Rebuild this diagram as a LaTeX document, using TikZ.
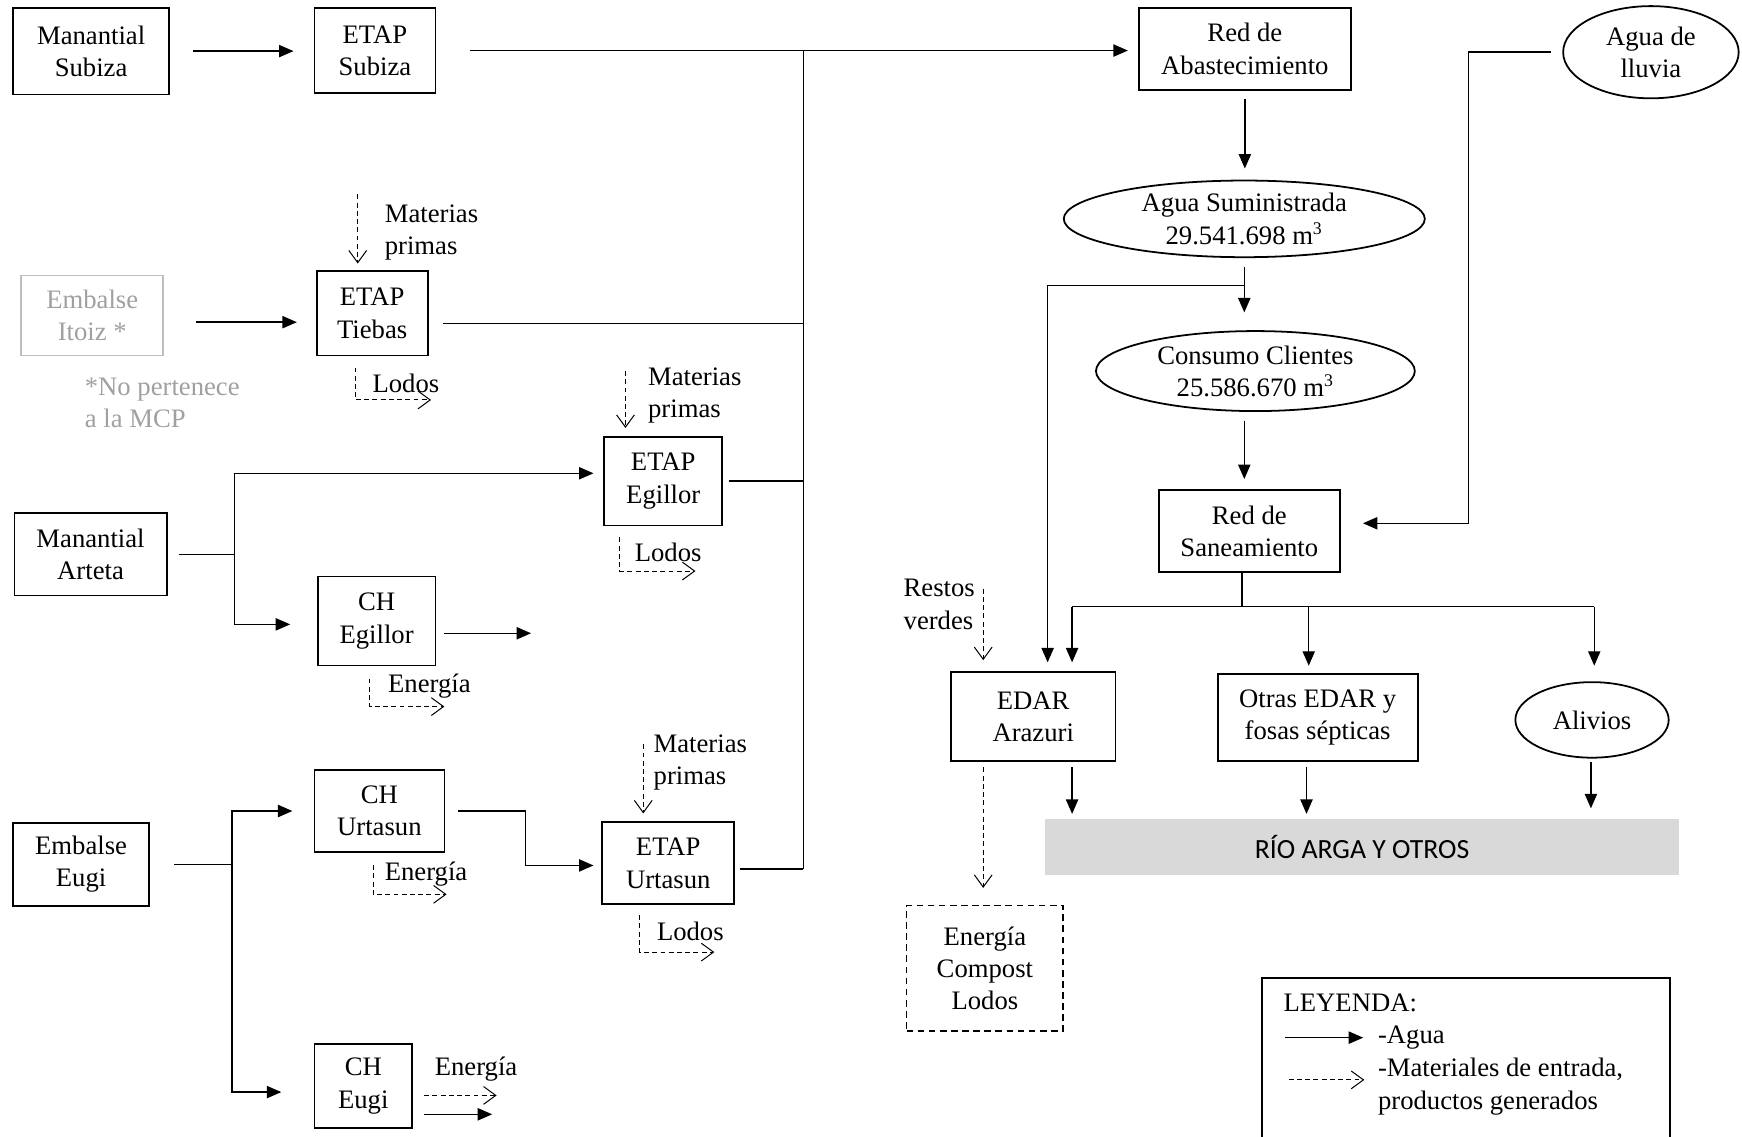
\documentclass[tikz,border=0pt]{standalone}
\usepackage{fontspec}
\setmainfont{Liberation Serif}
\newfontfamily\riofont{Carlito}
\usepackage{tikz}
\usetikzlibrary{arrows.meta,shapes.geometric}
\definecolor{gristxt}{RGB}{160,160,160}
\definecolor{grisbox}{RGB}{190,190,190}
\definecolor{grisrio}{RGB}{217,217,217}

\begin{document}
\begin{tikzpicture}[x=0.5pt,y=-0.5pt,
  txt/.style={font=\fontsize{12}{14.5}\selectfont},
  caja/.style={draw,line width=0.8pt,align=center,inner sep=0pt,txt},
  elipse/.style={ellipse,draw,line width=0.8pt,align=center,inner sep=0pt,txt},
  etiq/.style={align=left,inner sep=0pt,anchor=west,txt},
  linea/.style={line width=0.65pt},
  agua/.style={-{Triangle[length=6.5pt,width=5.5pt]},line width=0.65pt},
  mat/.style={-{Straight Barb[length=5.5pt,width=8pt]},dash pattern=on 2.2pt off 1.5pt,line width=0.45pt}]

  \useasboundingbox (0,0) rectangle (1568,1023);

  \node[caja,minimum width=70pt,minimum height=39pt] (msub) at (82,46) {Manantial\\Subiza};
  \node[caja,minimum width=54.5pt,minimum height=38.5pt] (esub) at (337.5,45.5) {ETAP\\Subiza};
  \node[caja,draw=grisbox,text=gristxt,minimum width=64pt,minimum height=36pt] (itoiz) at (83,284) {Embalse\\Itoiz *};
  \node[caja,minimum width=50pt,minimum height=38pt] (etie) at (335,282) {ETAP\\Tiebas};
  \node[caja,minimum width=68.5pt,minimum height=37pt] (mart) at (81.5,499) {Manantial\\Arteta};
  \node[caja,minimum width=53pt,minimum height=40pt] (eegi) at (597,433) {ETAP\\Egillor};
  \node[caja,minimum width=53pt,minimum height=40pt] (chegi) at (339,559) {CH\\Egillor};
  \node[caja,minimum width=61pt,minimum height=37.5pt] (eeugi) at (73,778) {Embalse\\Eugi};
  \node[caja,minimum width=58.5pt,minimum height=37pt] (churt) at (341.5,730) {CH\\Urtasun};
  \node[caja,minimum width=59.5pt,minimum height=37pt] (eurt) at (601.5,777) {ETAP\\Urtasun};
  \node[caja,minimum width=44pt,minimum height=37.5pt] (cheugi) at (327,977.5) {CH\\Eugi};

  \node[caja,minimum width=95.5pt,minimum height=37pt] (rabas) at (1120.5,44) {Red de\\Abastecimiento};
  \node[elipse,minimum width=79pt,minimum height=41.5pt] (lluvia) at (1486,47) {Agua de\\lluvia};
  \node[elipse,minimum width=162.5pt,minimum height=34.5pt] (asum) at (1120,197) {Agua Suministrada\\29.541.698 m\textsuperscript{3}};
  \node[elipse,minimum width=143.5pt,minimum height=36pt] (ccli) at (1130,334) {Consumo Clientes\\25.586.670 m\textsuperscript{3}};
  \node[caja,minimum width=81.5pt,minimum height=37pt] (rsan) at (1124.5,478) {Red de\\Saneamiento};
  \node[caja,minimum width=74pt,minimum height=40pt] (edar) at (930,645) {EDAR\\Arazuri};
  \node[caja,minimum width=90pt,minimum height=39pt] (otras) at (1186,646) {Otras EDAR y\\fosas sépticas};
  \node[elipse,minimum width=69pt,minimum height=34pt] (alivios) at (1433,648) {Alivios};
  \node[fill=grisrio,minimum width=285pt,minimum height=25.5pt,inner sep=0pt,font=\riofont\fontsize{12.5}{15}\selectfont] (rio) at (1226,762.5) {RÍO ARGA Y OTROS};
  \node[caja,dash pattern=on 3pt off 2pt,minimum width=70.5pt,minimum height=56.5pt] (prod) at (886.5,871.5) {Energía\\Compost\\Lodos};
  \node[caja,minimum width=183.5pt,minimum height=80pt] (ley) at (1319.5,960) {};

  \node[etiq] (mp1t) at (346,209) {Materias\\primas};
  \node[etiq] (mp2t) at (583,356) {Materias\\primas};
  \node[etiq] (mp3t) at (588,686) {Materias\\primas};
  \node[etiq] (ld1t) at (335,345) {Lodos};
  \node[etiq] (ld2t) at (571,497) {Lodos};
  \node[etiq] (ld3t) at (591,838) {Lodos};
  \node[etiq] (en1t) at (349,618) {Energía};
  \node[etiq] (en2t) at (346,787) {Energía};
  \node[etiq] (en3t) at (391,962) {Energía};
  \node[etiq,text=gristxt] (nota) at (76,363) {*No pertenece\\a la MCP};
  \node[etiq] (rvt) at (813,544) {Restos\\verdes};
  \node[etiq] (leyt) at (1155,903) {LEYENDA:};
  \node[etiq] (aguat) at (1240,934) {-Agua};
  \node[etiq] (matt) at (1240,978) {-Materiales de entrada,\\productos generados};

  \coordinate (jt) at (723,45.5);
  \coordinate (jb) at (723,782);
  \draw[agua,shorten <=10.5pt,shorten >=9pt] (msub.east) -- (msub.east -| esub.west);
  \draw[agua,shorten <=15pt,shorten >=4.5pt] (esub.east) -- (esub.east -| rabas.west);
  \draw[linea] (jt) -- (jb);
  \draw[linea,shorten <=6.5pt] ([yshift=-4.5pt]etie.east) -- ([yshift=-4.5pt]etie.east -| jt);
  \draw[linea,shorten <=2.5pt] (eegi.east) -- (eegi.east -| jt);
  \draw[linea,shorten <=2pt] ([yshift=-2.5pt]eurt.east) -- (jb);
  \draw[agua,shorten <=14.5pt,shorten >=8.5pt] ([yshift=-3pt]itoiz.east) -- ([yshift=-3pt]itoiz.east -| etie.west);

  \coordinate (sa) at (211,499);
  \draw[linea,shorten <=5pt] (mart.east) -- (sa);
  \draw[agua,shorten >=4.5pt] (sa) |- ([yshift=3.5pt]eegi.west);
  \draw[agua,shorten >=12pt] (sa) |- ([yshift=-1.5pt]chegi.west);
  \coordinate (chout) at (478,570);
  \draw[agua,shorten <=3.5pt] (chegi.east |- chout) -- (chout);

  \coordinate (sb) at (209,778);
  \draw[linea,shorten <=11pt] (eeugi.east) -- (sb);
  \draw[agua,shorten >=9.5pt] (sb) |- (churt.west);
  \draw[agua,shorten >=14.5pt] (sb) |- ([yshift=-2.75pt]cheugi.west);
  \coordinate (cu) at (473,730);
  \draw[agua,shorten <=5.5pt,shorten >=3.5pt] (churt.east) -- (cu) |- ([yshift=-1pt]eurt.west);
  \coordinate (ce1) at (447,986);
  \coordinate (ce2) at (443,1003);
  \draw[mat,shorten <=5pt] (cheugi.east |- ce1) -- (ce1);
  \draw[agua,shorten <=5pt] (cheugi.east |- ce2) -- (ce2);

  \coordinate (mp1) at (322,175);
  \coordinate (mp2) at (563,334);
  \coordinate (mp3) at (579,670);
  \draw[mat,shorten >=3pt] (mp1) -- (mp1 |- etie.north);
  \draw[mat,shorten >=3.5pt] (mp2) -- (mp2 |- eegi.north);
  \draw[mat,shorten >=3.5pt] (mp3) -- (mp3 |- eurt.north);
  \coordinate (ld1) at (388,360);
  \coordinate (ld2) at (626,514);
  \coordinate (ld3) at (643,857);
  \coordinate (en1) at (400,636);
  \coordinate (en2) at (402,805);
  \draw[mat,shorten <=5pt] ([xshift=-7.5pt]etie.south) |- (ld1);
  \draw[mat,shorten <=5pt] ([xshift=-19.5pt]eegi.south) |- (ld2);
  \draw[mat,shorten <=4.5pt] ([xshift=-12.75pt]eurt.south) |- (ld3);
  \draw[mat,shorten <=5.5pt] ([xshift=-3pt]chegi.south) |- (en1);
  \draw[mat,shorten <=5.5pt] ([xshift=-2.75pt]churt.south) |- (en2);

  \coordinate (js) at (1120,257);
  \draw[agua,shorten <=3.5pt,shorten >=5pt] (rabas.south) -- (rabas.south |- asum.north);
  \draw[agua,shorten <=4pt,shorten >=8pt] (asum.south) -- (asum.south |- ccli.north);
  \draw[agua,shorten >=4pt] (js) -| ([xshift=6.5pt]edar.north);
  \draw[agua,shorten <=4pt,shorten >=4.5pt] ([xshift=-5pt]ccli.south) -- ([xshift=-5pt]ccli.south |- rsan.north);
  \coordinate (jl) at (1322,47);
  \draw[agua,shorten <=5pt,shorten >=10pt] (lluvia.west) -- (jl) |- ([yshift=3.5pt]rsan.east);

  \coordinate (jsan) at (1118,546);
  \coordinate (jsl) at (965,546);
  \coordinate (jso) at (1178,546);
  \coordinate (jsr) at (1435,546);
  \draw[linea] (rsan.south -| jsan) -- (jsan);
  \draw[linea] (jsl) -- (jsr);
  \draw[agua,shorten >=4pt] (jsl) -- (jsl |- edar.north);
  \draw[agua,shorten >=3.5pt] (jso) -- (jso |- otras.north);
  \draw[agua,shorten >=7pt] (jsr) -- (jsr |- alivios.north);
  \draw[agua,shorten <=2.5pt,shorten >=2pt] (edar.south -| jsl) -- (jsl |- rio.north);
  \draw[agua,shorten <=2.5pt,shorten >=2pt] ([xshift=-5pt]otras.south) -- ([xshift=-5pt]otras.south |- rio.north);
  \draw[agua,shorten <=1.5pt,shorten >=4.5pt] ([xshift=-0.5pt]alivios.south) -- ([xshift=-0.5pt]alivios.south |- rio.north);

  \coordinate (rv) at (885,530);
  \draw[mat,shorten >=5pt] (rv) -- (rv |- edar.north);
  \draw[mat,shorten <=2.5pt,shorten >=7.5pt] (rv |- edar.south) -- (rv |- prod.north);

  \coordinate (la1) at (1157,934);
  \coordinate (la2) at (1227,934);
  \coordinate (lb1) at (1160,972);
  \coordinate (lb2) at (1228,972);
  \draw[agua] (la1) -- (la2);
  \draw[mat] (lb1) -- (lb2);
\end{tikzpicture}
\end{document}
